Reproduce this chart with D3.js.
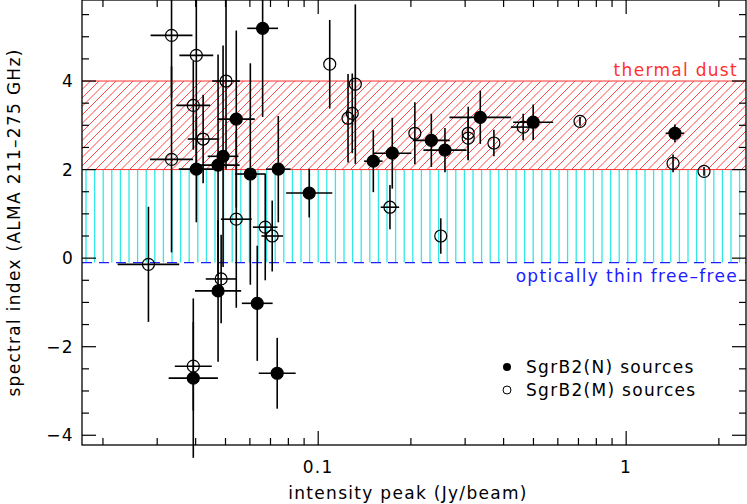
<!DOCTYPE html><html><head><meta charset="utf-8">
<script src="https://cdn.jsdelivr.net/npm/d3@7"></script>
<style>body{margin:0;background:#fff}text{font-family:"DejaVu Sans",sans-serif;letter-spacing:1.3px}</style></head><body>
<svg id="c" width="747" height="504"></svg>
<script>
const nX=[0.066,0.0542,0.0491,0.0473,0.0402,0.0602,0.0742,0.0935,0.151,0.174,0.233,0.258,0.336,0.499,1.44,0.0473,0.0634,0.0393,0.0736];
const nY=[5.19,3.14,2.30,2.10,2.01,1.90,2.01,1.47,2.19,2.37,2.66,2.44,3.18,3.07,2.82,-0.74,-1.02,-2.71,-2.60];
const nXe=[0.05,0.06,0.05,0.07,0.057,0.05,0.04,0.075,0.03,0.062,0.06,0.07,0.1,0.065,0.03,0.075,0.05,0.08,0.06];
const nYe=[2,2,2.5,2.5,1.2,2.5,1.2,0.55,0.7,0.8,0.6,0.5,0.6,0.4,0.2,1.6,1.3,1.8,0.8];
const mX=[0.0334,0.0402,0.0502,0.0393,0.0423,0.0334,0.109,0.132,0.129,0.125,0.171,0.0542,0.0673,0.0709,0.0281,0.0484,0.0393,0.206,0.307,0.307,0.372,0.463,0.708,1.42,1.79,0.25];
const mY=[5.03,4.58,4.0,3.45,2.69,2.23,4.38,3.93,3.27,3.16,1.15,0.88,0.70,0.50,-0.14,-0.47,-2.44,2.82,2.82,2.71,2.60,2.96,3.09,2.14,1.96,0.50];
const mXe=[0.068,0.055,0.045,0.055,0.05,0.07,0,0,0,0,0.03,0.05,0.04,0.035,0.1,0.05,0.06,0,0,0,0,0.04,0,0,0,0];
const mYe=[1.4,2.5,2,1,1,2.1,1,1.8,0.9,1,0.5,2,1.2,0.8,1.3,1,1,0.7,0.6,0.5,0.3,0.3,0.1,0.2,0.1,0.4];
const yTicks=[-4,-2,0,2,4];
const xTicks=[0.1,1];

const svg=d3.select("#c");
const L=82,R=746,T=0,B=445;
const x=d3.scaleLog().domain([0.0171,2.45]).range([L,R]);
const y=d3.scaleLinear().domain([-4.22,5.83]).range([B,T]);
const defs=svg.append("defs");
const y4=y(4),y2=y(2),y0=y(-0.1);
defs.append("clipPath").attr("id","cd").append("rect").attr("x",L).attr("y",y4).attr("width",R-L).attr("height",y2-y4);
const hg=svg.append("g").attr("clip-path","url(#cd)");
const H=y2-y4;
for(let s=L-H;s<R+8;s+=8.5){
  hg.append("line").attr("x1",s).attr("y1",y2).attr("x2",s+H).attr("y2",y4).attr("stroke","#ff3030").attr("stroke-width",0.9);
}
const vg=svg.append("g");
for(let s=L+4;s<R;s+=8.6){
  vg.append("line").attr("x1",s).attr("x2",s).attr("y1",y2).attr("y2",y0).attr("stroke","#30e8e8").attr("stroke-width",1.3);
}
[4,2].forEach(v=>svg.append("line").attr("x1",L).attr("x2",R).attr("y1",y(v)).attr("y2",y(v)).attr("stroke","#ff3030"));
svg.append("line").attr("x1",L).attr("x2",R).attr("y1",y0).attr("y2",y0).attr("stroke","#2020ff").attr("stroke-width",1.3).attr("stroke-dasharray","10,7");
svg.append("text").attr("x",738).attr("y",76).attr("text-anchor","end").attr("fill","#ff3030").attr("font-size",17).text("thermal dust");
svg.append("text").attr("x",738).attr("y",282).attr("text-anchor","end").attr("fill","#2020ff").attr("font-size",17).text("optically thin free\u2013free");

const g=svg.append("g");
function draw(X,Y,Xe,Ye,filled){
  X.forEach((v,i)=>{
    const cx=x(v),cy=y(Y[i]);
    g.append("line").attr("x1",cx).attr("x2",cx).attr("y1",y(Y[i]+Ye[i])).attr("y2",y(Y[i]-Ye[i])).attr("stroke","#000").attr("stroke-width",1.6);
    if(Xe[i]>0) g.append("line").attr("x1",x(v/Math.pow(10,Xe[i]))).attr("x2",x(v*Math.pow(10,Xe[i]))).attr("y1",cy).attr("y2",cy).attr("stroke","#000").attr("stroke-width",1.6);
    g.append("circle").attr("cx",cx).attr("cy",cy).attr("r",6).attr("fill",filled?"#000":"none").attr("stroke","#000").attr("stroke-width",1.2);
  });
}
draw(mX,mY,mXe,mYe,false);
draw(nX,nY,nXe,nYe,true);

svg.append("rect").attr("x",L).attr("y",T).attr("width",R-L).attr("height",B-T).attr("fill","none").attr("stroke","#000").attr("stroke-width",1.3);
const tk=svg.append("g").attr("stroke","#000").attr("stroke-width",1.2);
const minors=[];
[0.01,0.1,1].forEach(b=>{for(let k=1;k<10;k++){const v=+(b*k).toPrecision(3);if(v>=0.0171&&v<=2.45)minors.push(v);}});
minors.forEach(v=>{const len=xTicks.includes(v)?14:7;
  tk.append("line").attr("x1",x(v)).attr("x2",x(v)).attr("y1",B).attr("y2",B-len);
  tk.append("line").attr("x1",x(v)).attr("x2",x(v)).attr("y1",T).attr("y2",T+len);});
d3.range(-4,6,0.5).forEach(v=>{const len=yTicks.includes(v)?14:7;
  tk.append("line").attr("x1",L).attr("x2",L+len).attr("y1",y(v)).attr("y2",y(v));
  tk.append("line").attr("x1",R).attr("x2",R-len).attr("y1",y(v)).attr("y2",y(v));});
yTicks.forEach(v=>svg.append("text").attr("x",L-8).attr("y",y(v)+6).attr("text-anchor","end").attr("font-size",17).text(v<0?"\u2212"+(-v):v));
xTicks.forEach(v=>svg.append("text").attr("x",x(v)).attr("y",473).attr("text-anchor","middle").attr("font-size",17).text(v));
svg.append("text").attr("x",(L+R)/2-6).attr("y",499).attr("text-anchor","middle").attr("font-size",17).text("intensity peak (Jy/beam)");
svg.append("text").attr("transform",`translate(20,${(T+B)/2}) rotate(-90)`).attr("text-anchor","middle").attr("font-size",17).text("spectral index (ALMA 211\u2013275 GHz)");
svg.append("circle").attr("cx",507).attr("cy",367).attr("r",4).attr("fill","#000");
svg.append("circle").attr("cx",507).attr("cy",390).attr("r",4).attr("fill","none").attr("stroke","#000");
svg.append("text").attr("x",526).attr("y",373).attr("font-size",17).text("SgrB2(N) sources");
svg.append("text").attr("x",526).attr("y",396).attr("font-size",17).text("SgrB2(M) sources");
</script></body></html>
